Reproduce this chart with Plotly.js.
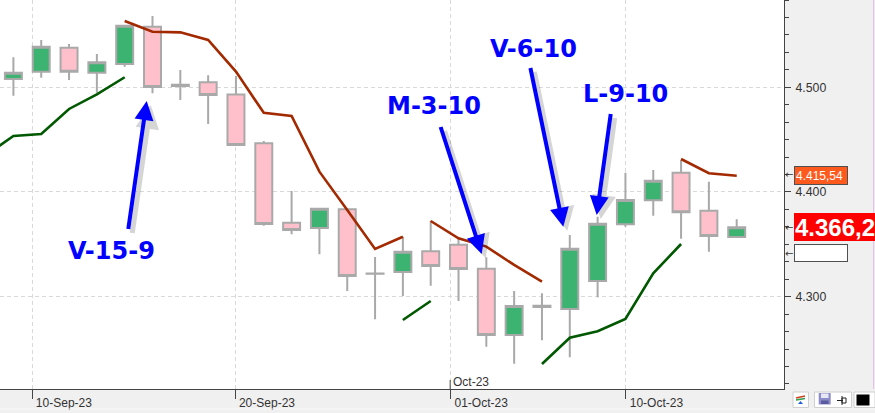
<!DOCTYPE html>
<html>
<head>
<meta charset="utf-8">
<script src="https://cdn.plot.ly/plotly-3.0.1.min.js"></script>
<style>
html,body{margin:0;padding:0;background:#f0f0f0;overflow:hidden;}
#chart{width:875px;height:413px;}
</style>
</head>
<body>
<div id="chart"></div>
<script>
// ---------------- DATA ----------------
const dates = ['2023-09-07','2023-09-08','2023-09-11','2023-09-12','2023-09-13','2023-09-14','2023-09-15',
  '2023-09-18','2023-09-19','2023-09-20','2023-09-21','2023-09-22','2023-09-25','2023-09-26','2023-09-27',
  '2023-09-28','2023-09-29','2023-10-02','2023-10-03','2023-10-04','2023-10-05','2023-10-06','2023-10-09',
  '2023-10-10','2023-10-11','2023-10-12','2023-10-13','2023-10-16'];
const openV  = [null,4507.9,4514.9,4537.8,4513.9,4522.3,4557.9,4501.3,4504.8,4493.1,4446.5,4370.7,4365.6,4383.5,4322.2,
  4323.6,4343.4,4349.7,4326.7,4263.4,4291.4,4288.3,4315.0,4369.2,4392.1,4418.4,4382.1,4357.0];
const highV  = [null,4528.7,4545.2,4541.4,4531.8,4559.5,4568.1,4516.5,4511.5,4510.8,4448.7,4401.0,4384.5,4384.0,4337.9,
  4357.3,4372.6,4355.7,4337.6,4305.4,4303.2,4358.9,4376.4,4418.4,4421.0,4430.6,4409.8,4373.9];
const lowV   = [null,4492.0,4509.2,4507.0,4494.8,4519.7,4494.3,4487.9,4464.9,4444.4,4367.8,4359.6,4340.5,4305.4,4278.4,
  4300.7,4310.5,4295.9,4252.2,4236.0,4258.4,4242.1,4299.4,4366.9,4377.4,4355.4,4343.0,4356.5];
const closeV = [null,4513.9,4538.8,4514.9,4523.9,4558.8,4500.3,4502.5,4492.6,4444.9,4369.4,4363.7,4384.0,4319.8,4321.8,
  4343.0,4329.3,4326.4,4263.4,4291.1,4290.2,4345.8,4369.7,4392.4,4410.8,4380.6,4357.9,4366.2];
// upper (resistance) line and lower (support) line
const upperLine = [null,null,null,null,null,4563.3,4553.1,4552.5,4545.2,4515.0,4475.6,4472.6,4419.4,4382.8,4345.6,
  4357.3,4372.3,4355.8,4347.8,4330.3,4314.3,null,null,null,null,4431.5,4417.9,4415.54];
const upperSegmentStarts = ['2023-09-29'];
const lowerLine = [4435.0,4453.5,4455.4,4479.3,4493.3,4509.6,null,null,null,null,null,null,null,null,null,
  4277.7,4295.9,null,null,null,4235.7,4260.8,4267.0,4278.7,4322.3,4350.3,null,null];
const tickDates  = ['2023-09-10','2023-09-20','2023-10-01','2023-10-10'];
const tickLabels = ['10-Sep-23','20-Sep-23','01-Oct-23','10-Oct-23'];
const monthDate  = '2023-10-01';
const monthLabel = 'Oct-23';
const noteLabels = ['V-15-9','M-3-10','V-6-10','L-9-10'];
const lastPrice  = closeV[closeV.length-1];
const upperLast  = upperLine[upperLine.length-1];

// ---------------- HELPERS ----------------
const idx = dates.map((d,i)=>i);
function posOf(d){
  const i = dates.indexOf(d);
  if(i>=0) return i;
  const j = dates.findIndex(x=>x>d);
  return j - 0.3;
}
function fmt(v,dec){
  const s = v.toFixed(dec).split('.');
  const ip = s[0].replace(/\B(?=(\d{3})+(?!\d))/g,'.');
  return dec>0 ? ip+','+s[1] : ip;
}
const W = 784, H = 389;
const PX = p => p/W;
const PY = p => (H-p)/H;

// upper line with segment breaks
const upX = [], upY = [];
dates.forEach((d,i)=>{
  if(upperSegmentStarts.includes(d)){ upX.push(null); upY.push(null); }
  upX.push(i); upY.push(upperLine[i]);
});

const traces = [
  {type:'scatter', mode:'lines', x:idx, y:lowerLine, line:{color:'#005800', width:2.6}, hoverinfo:'skip', connectgaps:false},
  {type:'scatter', mode:'lines', x:upX, y:upY, line:{color:'#a32a00', width:2.6}, hoverinfo:'skip', connectgaps:false},
  {type:'candlestick', x:idx, open:openV, high:highV, low:lowV, close:closeV,
   increasing:{line:{color:'#a9a9a9', width:2}, fillcolor:'#3cb371'},
   decreasing:{line:{color:'#a9a9a9', width:2}, fillcolor:'#ffc0cb'},
   whiskerwidth:0, hoverinfo:'skip'}
];

// ---------------- ANNOTATIONS ----------------
const arrows = [
  {tip:[146.7,101], tail:[128,231]},
  {tip:[481.7,254], tail:[440,125]},
  {tip:[563.3,226.7], tail:[530,66]},
  {tip:[596.7,215], tail:[611,112]}
];
const labelPos = [[111,250.5],[434.2,106.3],[533.7,48.7],[625.8,93.8]];
const ann = [];
arrows.forEach(a=>{
  ann.push({xref:'paper', yref:'paper', x:PX(a.tip[0]+4), y:PY(a.tip[1]+4), ax:a.tail[0]-a.tip[0], ay:a.tail[1]-a.tip[1],
    axref:'pixel', ayref:'pixel', text:' ', font:{size:1}, showarrow:true, arrowhead:2, arrowsize:0.95, arrowwidth:5,
    arrowcolor:'rgba(0,0,0,0.16)', standoff:0, startstandoff:0});
});
arrows.forEach(a=>{
  ann.push({xref:'paper', yref:'paper', x:PX(a.tip[0]), y:PY(a.tip[1]), ax:a.tail[0]-a.tip[0], ay:a.tail[1]-a.tip[1],
    axref:'pixel', ayref:'pixel', text:' ', font:{size:1}, showarrow:true, arrowhead:2, arrowsize:0.95, arrowwidth:4,
    arrowcolor:'#0000ff', standoff:0, startstandoff:0});
});
noteLabels.forEach((t,i)=>{
  ann.push({xref:'paper', yref:'paper', x:PX(labelPos[i][0]), y:PY(labelPos[i][1]), xanchor:'center', yanchor:'middle',
    text:'<b>'+t+'</b>', showarrow:false, font:{family:'DejaVu Sans', size:24, color:'#0000ff'}});
});
// month marker label
ann.push({xref:'x', yref:'paper', x:posOf(monthDate), y:PY(381.7), xanchor:'left', yanchor:'middle', xshift:1,
  text:monthLabel, showarrow:false, font:{family:'Liberation Sans', size:12, color:'#333'}});
// right-side price boxes
ann.push({xref:'paper', yref:'y', x:PX(794.3), y:upperLast, xanchor:'left', yanchor:'middle', text:fmt(upperLast,2),
  showarrow:false, bgcolor:'#ff5a1e', bordercolor:'#505050', borderwidth:1, borderpad:1, width:50, height:15, align:'left',
  font:{family:'Liberation Sans', size:12, color:'#ffffff'}});
ann.push({xref:'paper', yref:'y', x:PX(794.3), y:lastPrice, xanchor:'left', yanchor:'middle', text:'<b>'+fmt(lastPrice,1)+'</b>',
  showarrow:false, bgcolor:'#ff0000', borderwidth:0, borderpad:1, width:120, height:26, align:'left',
  font:{family:'Liberation Sans', size:24, color:'#ffffff'}});
ann.push({xref:'paper', yref:'paper', x:PX(794.3), y:PY(253.3), xanchor:'left', yanchor:'middle', text:' ',
  showarrow:false, bgcolor:'#ffffff', bordercolor:'#505050', borderwidth:1, borderpad:0, width:52, height:16,
  font:{family:'Liberation Sans', size:12, color:'#000'}});
[174, 227, 253.3].forEach(yp=>{
  ann.push({xref:'paper', yref:'paper', x:PX(788.5), y:PY(yp), xanchor:'center', yanchor:'middle', text:'←',
    showarrow:false, font:{family:'DejaVu Sans', size:10, color:'#333'}});
});

// ---------------- SHAPES ----------------
const shapes = [
  {type:'line', xref:'x', yref:'paper', x0:posOf(monthDate), x1:posOf(monthDate), y0:0, y1:PY(380), line:{color:'#444', width:1}},
  // bottom strip line
  {type:'line', xref:'paper', yref:'paper', x0:0, x1:PX(875), y0:PY(409), y1:PY(409), line:{color:'#fafafa', width:1}},
  // right edge pink line
  {type:'line', xref:'paper', yref:'paper', x0:PX(873.7), x1:PX(873.7), y0:PY(389), y1:1, line:{color:'#e6b8e6', width:1}},
  // icons
  {type:'rect', xref:'paper', yref:'paper', x0:PX(793), x1:PX(808.5), y0:PY(407.5), y1:PY(392), fillcolor:'#ffffff', line:{color:'#d0d0d0', width:1}},
  {type:'line', xref:'paper', yref:'paper', x0:PX(796), x1:PX(805), y0:PY(398), y1:PY(396), line:{color:'#d04020', width:1.5}},
  {type:'line', xref:'paper', yref:'paper', x0:PX(796), x1:PX(805), y0:PY(400), y1:PY(398.5), line:{color:'#30a050', width:1.5}},
  {type:'path', xref:'paper', yref:'paper', path:'M '+PX(798)+' '+PY(404)+' L '+PX(803)+' '+PY(404)+' L '+PX(800.5)+' '+PY(401)+' Z', fillcolor:'#2060e0', line:{width:0}},
  {type:'rect', xref:'paper', yref:'paper', x0:PX(814.5), x1:PX(851.5), y0:PY(407.5), y1:PY(392), fillcolor:'#ffffff', line:{color:'#d0d0d0', width:1}},
  {type:'rect', xref:'paper', yref:'paper', x0:PX(818.7), x1:PX(830.7), y0:PY(404.5), y1:PY(393), fillcolor:'#8c8cc8', line:{width:0}},
  {type:'rect', xref:'paper', yref:'paper', x0:PX(821), x1:PX(828.5), y0:PY(398), y1:PY(393.5), fillcolor:'#e8e8f4', line:{width:0}},
  {type:'rect', xref:'paper', yref:'paper', x0:PX(821), x1:PX(828.5), y0:PY(404), y1:PY(400.5), fillcolor:'#5a5aa0', line:{width:0}},
  {type:'line', xref:'paper', yref:'paper', x0:PX(837), x1:PX(843), y0:PY(400.5), y1:PY(400.5), line:{color:'#222', width:1}},
  {type:'rect', xref:'paper', yref:'paper', x0:PX(842), x1:PX(846), y0:PY(403), y1:PY(398), fillcolor:'rgba(0,0,0,0)', line:{color:'#222', width:1}},
  {type:'line', xref:'paper', yref:'paper', x0:PX(842), x1:PX(842), y0:PY(396), y1:PY(405), line:{color:'#222', width:1}},
  {type:'rect', xref:'paper', yref:'paper', x0:PX(854), x1:PX(875), y0:PY(407.5), y1:PY(392), fillcolor:'#ffffff', line:{color:'#d0d0d0', width:1}},
  {type:'rect', xref:'paper', yref:'paper', x0:PX(856.5), x1:PX(869.5), y0:PY(405.5), y1:PY(394.5), fillcolor:'#000000', line:{width:0}}
];

const layout = {
  width:875, height:413,
  margin:{l:0, r:91, t:0, b:24, pad:0},
  paper_bgcolor:'#f0f0f0', plot_bgcolor:'#ffffff',
  separators:',.',
  showlegend:false,
  boxgap:0.39, boxgroupgap:0,
  font:{family:'Liberation Sans', size:12, color:'#333'},
  xaxis:{
    type:'linear', range:[0.518, 28.70], fixedrange:true,
    rangeslider:{visible:false},
    tickmode:'array', tickvals:tickDates.map(posOf), ticktext:tickLabels,
    ticks:'outside', ticklen:9, tickwidth:1, tickcolor:'#444',
    ticklabelshift:31, ticklabelstandoff:-6,
    tickfont:{family:'Liberation Sans', size:12, color:'#333'},
    showgrid:true, gridcolor:'#d9d9d9', griddash:'4px,3px', gridwidth:1,
    showline:true, linecolor:'#444', linewidth:1, zeroline:false
  },
  yaxis:{
    side:'right', range:[4211.8, 4583.4], fixedrange:true,
    dtick:100, tick0:0, tickformat:',.0f',
    ticks:'outside', ticklen:6, tickwidth:1, tickcolor:'#444',
    ticklabelstandoff:2,
    minor:{dtick:100/6, tick0:0, ticks:'outside', ticklen:4, tickwidth:1, tickcolor:'#444', showgrid:false},
    tickfont:{family:'Liberation Sans', size:12.3, color:'#333'},
    showgrid:true, gridcolor:'#d9d9d9', griddash:'4px,3px', gridwidth:1,
    showline:true, linecolor:'#444', linewidth:1, zeroline:false
  },
  annotations:ann,
  shapes:shapes
};

Plotly.newPlot('chart', traces, layout, {displayModeBar:false, staticPlot:true});
</script>
</body>
</html>
